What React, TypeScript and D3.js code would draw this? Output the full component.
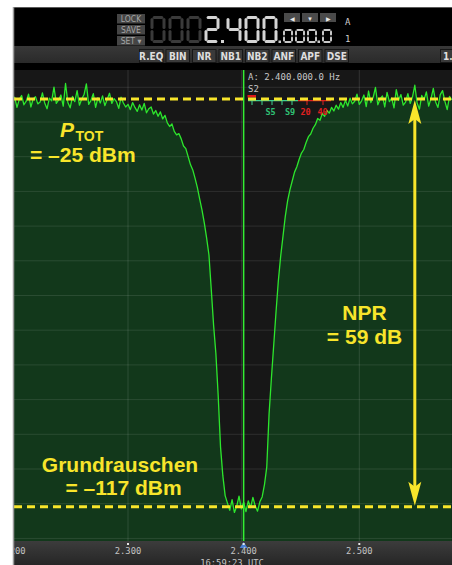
import * as d3 from "d3";

const W = 452;
const H = 565;
const SANS = "'Liberation Sans', Arial, sans-serif";
const NARROW = "'Liberation Sans Narrow', 'DejaVu Sans Condensed', 'Liberation Sans', Arial, sans-serif";
const MONO = "'DejaVu Sans Mono', monospace";
const YELLOW = "#f8e52b";

// spectrum trace, one reading every 2 kHz starting at 2.200 MHz (dBm)
const spectrumStartMHz = 2.2;
const spectrumStepMHz = 0.002;
const spectrumDbm = [
  -25.8, -24.6, -26.9, -25.1, -24.2, -26.3, -25.5, -23.9, -26.8, -25.0,
  -24.5, -26.1, -25.7, -23.6, -25.9, -27.2, -24.8, -25.4, -22.3, -26.0,
  -25.2, -24.1, -26.6, -21.5, -25.8, -27.0, -24.4, -25.6, -23.1, -26.4,
  -25.0, -24.0, -21.6, -26.2, -25.3, -23.8, -26.9, -24.7, -25.9, -24.3,
  -26.5, -25.1, -23.7, -26.0, -24.9, -25.6, -27.1, -24.6,
  -25.9, -26.8, -26.2, -27.4, -25.8, -26.9, -27.8, -26.3, -27.5, -26.0,
  -28.1, -27.2, -26.8, -28.4, -27.6, -28.9, -27.9, -29.5, -28.7, -30.4,
  -31.2, -30.6, -32.3, -33.1, -32.8, -34.0, -35.6, -36.2, -38.0, -39.8,
  -41.0, -42.9, -45.0, -47.6, -50.1, -53.0, -56.4, -60.2, -68.0, -76.0,
  -82.5, -92.0, -103.5, -110.0, -114.5,
  -116.2, -117.8, -115.4, -118.3, -116.9, -114.6, -117.5, -116.0, -118.1, -115.7,
  -117.2, -114.9, -116.8, -118.0, -115.9,
  -114.8, -112.0, -108.0, -96.0, -88.0, -80.5, -73.0, -66.0, -60.5, -56.0,
  -51.5, -48.0, -45.5, -43.5, -41.5, -40.3, -38.6, -37.2, -36.4, -34.8,
  -33.5, -32.9, -31.6, -30.8, -29.4, -29.8, -28.3, -28.9, -27.6, -28.2,
  -26.9, -27.7, -26.4, -27.3, -25.8, -26.9, -25.3, -26.6, -24.8, -26.1,
  -25.5, -23.9, -26.2,
  -25.4, -24.1, -26.7, -23.2, -25.8, -24.6, -22.4, -26.3, -25.0, -24.3,
  -26.8, -23.5, -25.6, -24.8, -27.0, -22.9, -25.3, -24.0, -26.4, -25.7,
  -23.8, -26.0, -24.5, -21.9, -25.9, -27.3, -24.2, -25.1, -23.4, -26.6,
  -24.9, -22.6, -25.7, -26.9, -24.0, -23.1, -25.5, -27.4, -24.4, -25.2,
];

const axisTicksMHz = [2.2, 2.3, 2.4, 2.5];
const cursorMHz = 2.4;
const nprMarkerMHz = 2.548;
const totalPowerDbm = -25;
const noiseFloorDbm = -117;
const nprDb = 59;

const vfoLeading = "000";
const vfoMHz = "2.400";
const vfoHz = ".000.0";
const memoryButtons = ["LOCK", "SAVE", "SET \u25BE"];
const toolbarButtons = ["R.EQ", "BIN", "NR", "NB1", "NB2", "ANF", "APF", "DSE"];
const sMeterLabels = ["S5", "S9", "20", "40"];
const utcTime = "16:59:23 UTC";

const PLOT = { left: 14, right: W, top: 70, bottom: 541 };

const SEGMENTS: Record<string, string> = {
  "0": "abcdef", "1": "bc", "2": "abged", "3": "abgcd", "4": "fgbc",
  "5": "afgcd", "6": "afgedc", "7": "abc", "8": "abcdefg", "9": "abcdfg",
};

function SevenSeg({ x, y, w, h, ch, color, sw }: any) {
  const g = sw * 0.7;
  const m = y + h / 2;
  const s: Record<string, number[]> = {
    a: [x + g, y, x + w - g, y],
    b: [x + w, y + g, x + w, m - g],
    c: [x + w, m + g, x + w, y + h - g],
    d: [x + g, y + h, x + w - g, y + h],
    e: [x, m + g, x, y + h - g],
    f: [x, y + g, x, m - g],
    g: [x + g, m, x + w - g, m],
  };
  return (
    <g stroke={color} strokeWidth={sw} strokeLinecap="round">
      {SEGMENTS[ch].split("").map((k) => (
        <line key={k} x1={s[k][0]} y1={s[k][1]} x2={s[k][2]} y2={s[k][3]} />
      ))}
    </g>
  );
}

function VfoDisplay() {
  const items: any[] = [];
  let cx = 152;
  const big = { y: 17.5, w: 12, h: 24, sw: 3 };
  const small = { y: 30, w: 8, h: 12, sw: 2 };
  vfoLeading.split("").forEach((c, i) => {
    items.push(<SevenSeg key={"l" + i} x={cx} {...big} ch={c} color="#3a3a3a" />);
    cx += 18;
  });
  vfoMHz.split("").forEach((c, i) => {
    if (c === ".") {
      items.push(<rect key={"m" + i} x={cx - 3} y={40} width={3} height={3} fill="#d4d4d4" />);
      cx += 4;
    } else {
      items.push(<SevenSeg key={"m" + i} x={cx} {...big} ch={c} color="#d4d4d4" />);
      cx += 18;
    }
  });
  cx -= 1;
  vfoHz.split("").forEach((c, i) => {
    if (c === ".") {
      items.push(<rect key={"h" + i} x={cx - 2.5} y={40.5} width={2.5} height={2.5} fill="#c8c8c8" />);
      cx += 3;
    } else {
      items.push(<SevenSeg key={"h" + i} x={cx} {...small} ch={c} color="#c8c8c8" />);
      cx += 12;
    }
  });
  return <g>{items}</g>;
}

export default function App() {
  const x = d3.scaleLinear().domain([2.3, 2.5]).range([128, 359.3]);
  const y = d3.scaleLinear().domain([totalPowerDbm, noiseFloorDbm]).range([99, 506.7]);
  const pts: [number, number][] = spectrumDbm.map((v, i) => [spectrumStartMHz + i * spectrumStepMHz, v]);
  const line = d3.line<[number, number]>().x((d) => x(d[0])).y((d) => y(d[1]));
  const area = d3
    .area<[number, number]>()
    .x((d) => x(d[0]))
    .y0(PLOT.bottom)
    .y1((d) => y(d[1]));

  const gridY = d3.range(14).map((i) => 87.3 + i * 34.7);
  const ax = x(nprMarkerMHz);
  const yTop = y(totalPowerDbm);
  const yBot = y(noiseFloorDbm);
  const cursorX = x(cursorMHz);
  const fmt = d3.format(".3f");

  return (
    <svg
      width={W}
      height={H}
      style={{ position: "absolute", left: 0, top: 0, display: "block" }}
      fontFamily={SANS}
    >
      <defs>
        <clipPath id="shot">
          <rect x={14} y={7} width={W - 14} height={H - 7} />
        </clipPath>
        <clipPath id="plot">
          <rect x={PLOT.left} y={PLOT.top} width={PLOT.right - PLOT.left} height={PLOT.bottom - PLOT.top} />
        </clipPath>
        <linearGradient id="bar" x1="0" y1="0" x2="0" y2="1">
          <stop offset="0" stopColor="#3c3c3c" />
          <stop offset="1" stopColor="#262626" />
        </linearGradient>
        <linearGradient id="tool" x1="0" y1="0" x2="0" y2="1">
          <stop offset="0" stopColor="#383838" />
          <stop offset="1" stopColor="#2a2a2a" />
        </linearGradient>
      </defs>
      <rect width={W} height={H} fill="#fff" />

      <g clipPath="url(#shot)">
        {/* header */}
        <rect x={14} y={7} width={W - 14} height={39} fill="#000" />
        <line x1={14} x2={W} y1={7.5} y2={7.5} stroke="#5a5a5a" />
        {memoryButtons.map((b, i) => (
          <g key={b}>
            <rect x={117} y={14 + i * 11} width={28} height={9.5} fill="#454545" />
            <text x={131} y={21.8 + i * 11} fontSize={8.5} fill="#a6a6a6" textAnchor="middle" fontFamily={NARROW}>
              {b}
            </text>
          </g>
        ))}
        <VfoDisplay />
        {["\u25C0", "\u25BC", "\u25B6"].map((a, i) => (
          <g key={a}>
            <rect x={284 + i * 18} y={13} width={16} height={9} fill="#4a4a4a" />
            <text x={292 + i * 18} y={20.5} fontSize={6} fill="#e8e8e8" textAnchor="middle">
              {a}
            </text>
          </g>
        ))}
        <text x={345} y={25} fontSize={9} fill="#cfcfcf" fontFamily={MONO}>A</text>
        <text x={345} y={42} fontSize={9} fill="#cfcfcf" fontFamily={MONO}>1</text>

        {/* toolbar */}
        <rect x={14} y={46} width={W - 14} height={17} fill="url(#tool)" />
        <rect x={14} y={63} width={W - 14} height={7} fill="#000" />
        {toolbarButtons.map((b, i) => (
          <g key={b}>
            <rect x={139.5 + i * 26.5} y={49.5} width={23.5} height={13} fill="#3a3a3a" stroke="#161616" />
            <text
              x={151.25 + i * 26.5}
              y={59.8}
              fontSize={10}
              fontWeight="bold"
              fill="#dedede"
              textAnchor="middle"
              fontFamily={NARROW}
            >
              {b}
            </text>
          </g>
        ))}
        <rect x={440.5} y={49.5} width={24} height={13} fill="#3a3a3a" stroke="#161616" />
        <text x={443} y={59.8} fontSize={10} fontWeight="bold" fill="#dedede" fontFamily={NARROW}>1.5</text>

        {/* panadapter */}
        <rect x={PLOT.left} y={PLOT.top} width={PLOT.right - PLOT.left} height={PLOT.bottom - PLOT.top} fill="#171717" />
        <g clipPath="url(#plot)">
          <path d={area(pts) ?? ""} fill="#12381b" />
          {gridY.map((gy) => (
            <line key={gy} x1={PLOT.left} x2={PLOT.right} y1={gy} y2={gy} stroke="#ffffff" strokeOpacity={0.1} />
          ))}
          {axisTicksMHz.map((t) => (
            <line
              key={t}
              x1={x(t) - (t === cursorMHz ? 2 : 0)}
              x2={x(t) - (t === cursorMHz ? 2 : 0)}
              y1={PLOT.top}
              y2={PLOT.bottom}
              stroke="#ffffff"
              strokeOpacity={0.12}
            />
          ))}
          <path d={line(pts) ?? ""} fill="none" stroke="#2de62d" strokeWidth={1.3} strokeLinejoin="round" />
          <line x1={cursorX} x2={cursorX} y1={PLOT.top} y2={PLOT.bottom} stroke="#33ee33" strokeWidth={1.5} />
        </g>

        {/* slice info + s-meter */}
        <text x={248} y={80} fontSize={9} fill="#c8c8c8" fontFamily={MONO}>
          A: 2.400.000.0 Hz
        </text>
        <text x={248} y={92} fontSize={9} fill="#c8c8c8" fontFamily={MONO}>
          S2
        </text>
        <rect x={247.5} y={95} width={8.5} height={2.5} fill="#e01818" />
        <line x1={248} x2={298} y1={100.7} y2={100.7} stroke="#3fd090" strokeWidth={1.2} />
        <line x1={298} x2={331} y1={100.7} y2={100.7} stroke="#e02020" strokeWidth={1.2} />
        {[252, 262, 272, 282, 292].map((t) => (
          <line key={t} x1={t} x2={t} y1={100.7} y2={105} stroke="#3fd090" />
        ))}
        {[307, 323].map((t) => (
          <line key={t} x1={t} x2={t} y1={100.7} y2={105} stroke="#e02020" />
        ))}
        {sMeterLabels.map((s, i) => (
          <text
            key={s}
            x={[270.5, 290, 305.5, 322.5][i]}
            y={114.5}
            fontSize={8.5}
            fontFamily={MONO}
            fontWeight="bold"
            textAnchor="middle"
            fill={i < 2 ? "#2fbf73" : "#e02020"}
          >
            {s}
          </text>
        ))}

        {/* frequency axis */}
        <rect x={14} y={PLOT.bottom} width={W - 14} height={H - PLOT.bottom} fill="url(#bar)" />
        {axisTicksMHz.map((t) => (
          <g key={t}>
            {t === cursorMHz ? (
              <path d={`M${x(t)},${PLOT.bottom + 1}l4,6h-8z`} fill="#4a7fd6" />
            ) : null}
            <rect x={x(t) - 1} y={PLOT.bottom + 2} width={2} height={2} fill="#e6e6e6" />
            <text x={x(t)} y={554} fontSize={8.8} fill="#c4c4c4" fontFamily={MONO} textAnchor="middle">
              {fmt(t)}
            </text>
          </g>
        ))}
        <text x={232} y={566} fontSize={8.8} fill="#c4c4c4" fontFamily={MONO} textAnchor="middle">
          {utcTime}
        </text>

        {/* annotations */}
        <g stroke={YELLOW} strokeWidth={3} strokeDasharray="8 5">
          <line x1={PLOT.left} x2={PLOT.right} y1={yTop} y2={yTop} />
          <line x1={PLOT.left} x2={PLOT.right} y1={yBot} y2={yBot} />
        </g>
        <line x1={ax} x2={ax} y1={yTop + 18} y2={yBot - 18} stroke={YELLOW} strokeWidth={3} />
        <path d={`M${ax},${yTop + 1}L${ax + 6.5},${yTop + 25}L${ax},${yTop + 20}L${ax - 6.5},${yTop + 25}Z`} fill={YELLOW} />
        <path d={`M${ax},${yBot - 1}L${ax + 6.5},${yBot - 25}L${ax},${yBot - 20}L${ax - 6.5},${yBot - 25}Z`} fill={YELLOW} />

        <g fill={YELLOW} fontWeight="bold" fontSize={21}>
          <text x={60} y={137} fontStyle="italic">
            P
          </text>
          <text x={75.5} y={141} fontSize={14}>
            TOT
          </text>
          <text x={30} y={162}>= {"\u2013"}{Math.abs(totalPowerDbm)} dBm</text>
          <text x={364.5} y={320} textAnchor="middle">NPR</text>
          <text x={364.5} y={344} textAnchor="middle">= {nprDb} dB</text>
          <text x={120} y={472} textAnchor="middle">Grundrauschen</text>
          <text x={123.5} y={495} textAnchor="middle">= {"\u2013"}{Math.abs(noiseFloorDbm)} dBm</text>
        </g>
      </g>
      <line x1={13.5} x2={13.5} y1={7} y2={H} stroke="#9a9a9a" strokeWidth={1.5} />
    </svg>
  );
}
